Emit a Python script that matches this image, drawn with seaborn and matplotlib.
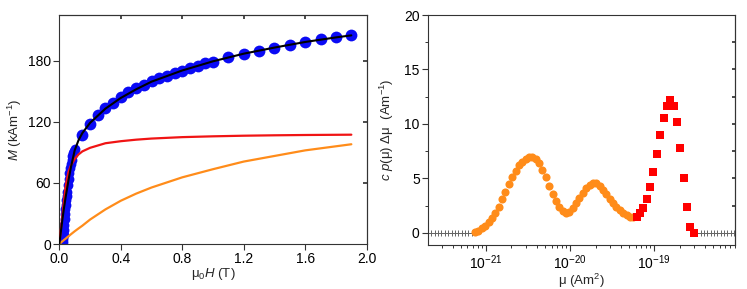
import numpy as np
import matplotlib
matplotlib.use("Agg")
import matplotlib.pyplot as plt
import seaborn as sns
from matplotlib.ticker import MultipleLocator, LogLocator, NullFormatter, FixedLocator

# --- left panel: magnetisation curve ---
field_lo = [0.02, 0.0225, 0.025, 0.0275, 0.03, 0.0325, 0.035, 0.0375, 0.04,
            0.0425, 0.045, 0.0475, 0.05, 0.055, 0.06, 0.065, 0.07, 0.075,
            0.08, 0.085, 0.09, 0.095, 0.1]
m_lo = [0, 2, 5, 9, 14, 19, 25, 29, 34, 38, 43, 47, 51, 58, 64, 70, 75, 79,
        83, 86, 89, 91, 93]

field_hi = [0.15, 0.2, 0.25, 0.3, 0.35, 0.4, 0.45, 0.5, 0.55, 0.6, 0.65, 0.7,
            0.75, 0.8, 0.85, 0.9, 0.95, 1.0, 1.1, 1.2, 1.3, 1.4, 1.5, 1.6,
            1.7, 1.8, 1.9]
m_hi = [107.3, 118.1, 127.0, 133.5, 139.0, 144.0, 149.0, 153.2, 156.4, 159.7,
        163.0, 165.3, 167.9, 170.2, 172.8, 175.1, 177.7, 179.3, 183.6, 186.5,
        189.2, 192.8, 196.0, 198.0, 201.2, 202.9, 205.3]

curve_field = [0, 0.01, 0.02, 0.03, 0.04, 0.05, 0.06, 0.075, 0.1, 0.125, 0.15,
               0.2, 0.3, 0.4, 0.5, 0.6, 0.8, 1.0, 1.2, 1.4, 1.6, 1.8, 1.9]
m_fit = [0, 12, 24, 35, 45, 54, 63, 75, 92, 102, 109, 119, 133, 143.5, 152,
         159.5, 170.5, 179.5, 187, 193, 198.5, 203, 205]
m_large = [0, 14, 28, 42, 55, 64, 71, 77, 83.5, 88, 91, 94.5, 99, 101, 102.5,
           103.6, 105, 105.8, 106.4, 106.8, 107.1, 107.3, 107.4]
m_small = [0, 1.3, 2.6, 3.9, 5.1, 6.4, 7.6, 9.5, 12.5, 15.3, 18, 24, 34, 42.5,
           49.5, 55.5, 65.5, 73.5, 81, 86.5, 92, 96, 98]

# --- right panel: moment distribution (log10 of mu) ---
exp_zero_lo = [-21.69, -21.65, -21.61, -21.57, -21.53, -21.49, -21.45, -21.41,
               -21.37, -21.33, -21.29, -21.25, -21.21, -21.17]
exp_zero_hi = [-18.49, -18.45, -18.41, -18.37, -18.33, -18.29, -18.25, -18.21,
               -18.17, -18.13, -18.09, -18.05]
exp_small = [-21.13, -21.09, -21.05, -21.01, -20.97, -20.93, -20.89, -20.85,
             -20.81, -20.77, -20.73, -20.69, -20.65, -20.61, -20.57, -20.53,
             -20.49, -20.45, -20.41, -20.37, -20.33, -20.29, -20.25, -20.21,
             -20.17, -20.13, -20.09, -20.05, -20.01, -19.97, -19.93, -19.89,
             -19.85, -19.81, -19.77, -19.73, -19.69, -19.65, -19.61, -19.57,
             -19.53, -19.49, -19.45, -19.41, -19.37, -19.33, -19.29, -19.25]
p_small = [0.04, 0.19, 0.4, 0.64, 1.01, 1.38, 1.84, 2.39, 3.07, 3.74, 4.48,
           5.09, 5.7, 6.19, 6.53, 6.77, 6.99, 6.93, 6.75, 6.38, 5.76, 5.09,
           4.29, 3.56, 2.94, 2.39, 1.99, 1.84, 1.93, 2.24, 2.7, 3.16, 3.62,
           4.08, 4.41, 4.6, 4.54, 4.29, 3.92, 3.53, 3.1, 2.7, 2.36, 2.06,
           1.78, 1.6, 1.47, 1.42]
exp_large = [-19.21, -19.17, -19.13, -19.09, -19.05, -19.01, -18.97, -18.93,
             -18.89, -18.85, -18.81, -18.77, -18.73, -18.69, -18.65, -18.61,
             -18.57, -18.53]
p_large = [1.47, 1.78, 2.27, 3.1, 4.2, 5.6, 7.27, 9.0, 10.5, 11.66, 12.15,
           11.66, 10.2, 7.8, 5.0, 2.33, 0.55, 0.0]

sns.set_theme(style="ticks")
plt.rcParams['font.family'] = ['Liberation Sans', 'DejaVu Sans']
plt.rcParams['mathtext.fontset'] = 'custom'
plt.rcParams['mathtext.rm'] = 'Liberation Sans'
plt.rcParams['mathtext.it'] = 'Liberation Sans:italic'
plt.rcParams['axes.edgecolor'] = '#333333'
plt.rcParams['axes.linewidth'] = 0.8
plt.rcParams['xtick.color'] = '#333333'
plt.rcParams['ytick.color'] = '#333333'
plt.rcParams['xtick.labelcolor'] = 'black'
plt.rcParams['ytick.labelcolor'] = 'black'

fig = plt.figure(figsize=(7.47, 2.89), dpi=100)
ax1 = fig.add_axes([0.0794, 0.1557, 0.4115, 0.7924])
ax2 = fig.add_axes([0.573, 0.152, 0.411, 0.796])

# left panel
sns.scatterplot(x=field_lo, y=m_lo, ax=ax1, color='#0a0af5', s=50, linewidth=0, zorder=2)
sns.scatterplot(x=field_hi, y=m_hi, ax=ax1, color='#0a0af5', s=72, linewidth=0, zorder=2)
sns.lineplot(x=curve_field, y=m_large, ax=ax1, color='#f01414', lw=1.6, sort=False, estimator=None, zorder=3)
sns.lineplot(x=curve_field, y=m_small, ax=ax1, color='#ff8c1a', lw=1.6, sort=False, estimator=None, zorder=3)
sns.lineplot(x=curve_field, y=m_fit, ax=ax1, color='black', lw=1.5, sort=False, estimator=None, zorder=4)

ax1.set_xlim(0, 2.0)
ax1.set_ylim(0, 225)
ax1.set_xticks([0, 0.4, 0.8, 1.2, 1.6, 2.0])
ax1.set_xticklabels(['0.0', '0.4', '0.8', '1.2', '1.6', '2.0'])
ax1.set_yticks([0, 60, 120, 180])
ax1.tick_params(direction='out', length=4, width=0.8, labelsize=10, pad=2)
ax1.set_xlabel("μ$_0$$\\mathit{H}$ (T)", fontsize=9.5, labelpad=0)
ax1.set_ylabel("$\\mathit{M}$ (kAm$^{-1}$)", fontsize=9.5, labelpad=3)
top1 = ax1.secondary_xaxis('top')
top1.xaxis.set_major_locator(FixedLocator([0.4, 0.8, 1.2, 1.6]))
top1.xaxis.set_major_formatter(NullFormatter())
top1.tick_params(direction='in', length=3)
right1 = ax1.secondary_yaxis('right')
right1.yaxis.set_major_locator(FixedLocator([60, 120, 180]))
right1.yaxis.set_major_formatter(NullFormatter())
right1.tick_params(direction='in', length=3)

# right panel
mu_zero_lo = 10.0 ** np.array(exp_zero_lo)
mu_zero_hi = 10.0 ** np.array(exp_zero_hi)
for mu_z in (mu_zero_lo, mu_zero_hi):
    sns.lineplot(x=mu_z, y=np.zeros(len(mu_z)), ax=ax2, color='#666666', lw=0.7,
                 marker='+', markersize=4.5, markeredgewidth=0.7, markeredgecolor='#666666',
                 sort=False, estimator=None)
sns.scatterplot(x=10.0 ** np.array(exp_small), y=p_small, ax=ax2, color='#ff8c1a',
                s=34, linewidth=0, marker='o', zorder=3)
sns.scatterplot(x=10.0 ** np.array(exp_large), y=p_large, ax=ax2, color='#ff0000',
                s=28, linewidth=0, marker='s', zorder=3)

ax2.set_xscale('log')
ax2.set_xlim(10 ** -21.69, 10 ** -18.04)
ax2.set_ylim(-1.13, 20)
ax2.xaxis.set_major_locator(FixedLocator([1e-21, 1e-20, 1e-19]))
ax2.xaxis.set_minor_locator(LogLocator(base=10, subs=np.arange(2, 10), numticks=20))
ax2.xaxis.set_minor_formatter(NullFormatter())
ax2.yaxis.set_major_locator(MultipleLocator(5))
ax2.yaxis.set_minor_locator(MultipleLocator(2.5))
ax2.tick_params(which='major', direction='out', length=4, width=0.8, labelsize=10, pad=2)
ax2.tick_params(which='minor', direction='out', length=2.5, width=0.7)
ax2.set_xlabel("μ (Am$^2$)", fontsize=9.5, labelpad=0)
ax2.set_ylabel("$\\mathit{c}$ $\\mathit{p}$(μ) Δμ  (Am$^{-1}$)", fontsize=9.5, labelpad=6)
right2 = ax2.secondary_yaxis('right')
right2.yaxis.set_major_locator(FixedLocator([2.5, 5, 7.5, 10, 12.5, 15, 17.5]))
right2.yaxis.set_major_formatter(NullFormatter())
right2.tick_params(direction='in', length=2.5)

for ax in (ax1, ax2):
    for side in ('top', 'right'):
        ax.spines[side].set_visible(True)

fig.savefig("out.png", dpi=100)
